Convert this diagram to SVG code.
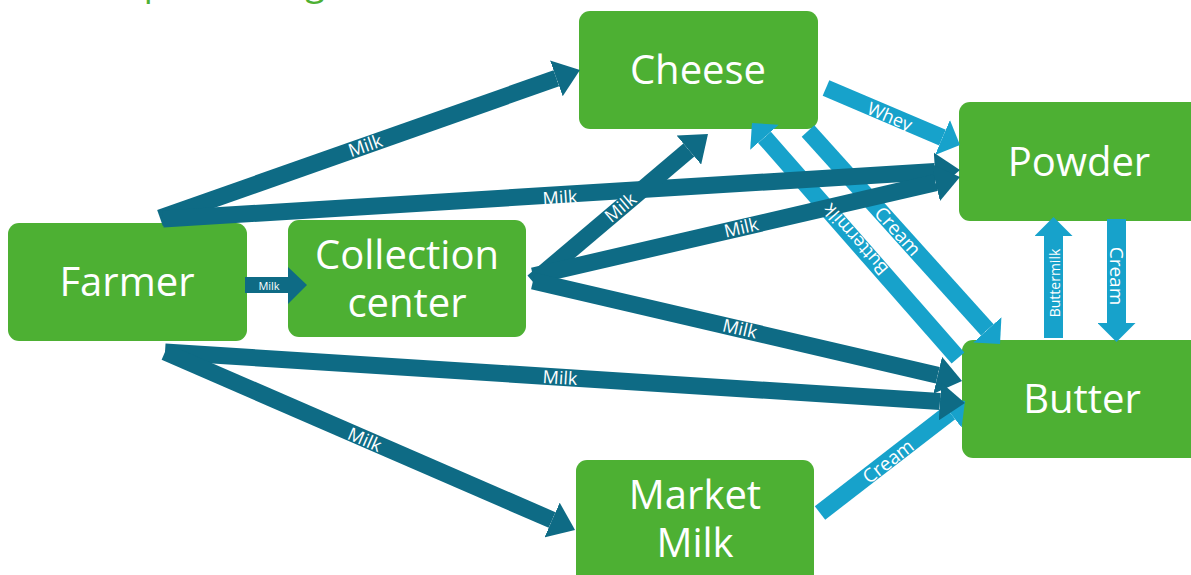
<svg xmlns="http://www.w3.org/2000/svg" width="1191" height="575" viewBox="0 0 1191 575">
<style>
.node{fill:#4DB033}
.nt{fill:#fff;font-family:"Open Sans","Noto Sans",sans-serif;font-size:40px;text-anchor:middle}
.dark{stroke:#0E6B85;stroke-width:17;fill:none;marker-end:url(#hd)}
.light{stroke:#17A2CB;stroke-width:17;fill:none;marker-end:url(#hl)}
.lv{stroke:#17A2CB;stroke-width:19;fill:none;marker-end:url(#hl)}
.lb{fill:#fff;font-family:"Open Sans","Noto Sans",sans-serif;font-size:18px;text-anchor:middle;dominant-baseline:central}
</style>
<defs>
<marker id="hd" markerUnits="userSpaceOnUse" viewBox="0 0 25 38" markerWidth="25" markerHeight="38" refX="0" refY="19" orient="auto"><path d="M0,0 L25,19 L0,38 z" fill="#0E6B85"/></marker>
<marker id="hl" markerUnits="userSpaceOnUse" viewBox="0 0 19 38" markerWidth="19" markerHeight="38" refX="0" refY="19" orient="auto"><path d="M0,0 L19,19 L0,38 z" fill="#17A2CB"/></marker>
</defs>
<text x="65" y="-5" fill="#4DB033" font-family="Open Sans, Noto Sans, sans-serif" font-size="36">Milk processing</text>
<g id="farmer"><rect class="node" x="8" y="223" width="239" height="118" rx="11"/><text class="nt" x="127" y="296">Farmer</text></g>
<g id="collection"><rect class="node" x="288" y="220" width="238" height="117" rx="11"/><text class="nt" x="407" y="269">Collection</text><text class="nt" x="407" y="317">center</text></g>
<g id="cheese"><rect class="node" x="579" y="11" width="239" height="118" rx="11"/><text class="nt" x="698" y="84">Cheese</text></g>
<g id="powder"><rect class="node" x="959" y="102" width="250" height="119" rx="11"/><text class="nt" x="1079" y="176">Powder</text></g>
<g id="butter"><rect class="node" x="962" y="340" width="250" height="118" rx="11"/><text class="nt" x="1082" y="413">Butter</text></g>
<g id="market"><rect class="node" x="576" y="460" width="238" height="130" rx="11"/><text class="nt" x="695" y="509">Market</text><text class="nt" x="695" y="557">Milk</text></g>
<g id="connectors">
<line class="light" x1="826" y1="88" x2="942.5" y2="137.6"/>
<line class="light" x1="808" y1="131" x2="987.3" y2="329.9"/>
<line class="light" x1="958" y1="358" x2="764.5" y2="137.3"/>
<line class="light" x1="820" y1="513" x2="950" y2="412.6"/>
<line class="lv" x1="1053.5" y1="338" x2="1053.5" y2="236"/>
<line class="lv" x1="1116.5" y1="219" x2="1116.5" y2="323"/>
<line class="dark" x1="160" y1="218" x2="556.4" y2="78.3"/>
<line class="dark" x1="163" y1="219" x2="935" y2="171.5"/>
<polygon points="245,277 288,277 288,267 307,285 288,304 288,293 245,293" fill="#0E6B85"/>
<line class="dark" x1="533" y1="282" x2="688.9" y2="150.1"/>
<line class="dark" x1="533" y1="276" x2="935.6" y2="182.6"/>
<line class="dark" x1="533" y1="281" x2="937.7" y2="375.3"/>
<line class="dark" x1="165" y1="352" x2="940" y2="401.4"/>
<line class="dark" x1="165" y1="352" x2="552.1" y2="520"/>
<text class="lb" transform="translate(365,145) rotate(-19.4)">Milk</text>
<text class="lb" transform="translate(560,197) rotate(-3.5)">Milk</text>
<text class="lb" style="font-size:11px" x="269" y="285">Milk</text>
<text class="lb" transform="translate(620,207) rotate(-40.2)">Milk</text>
<text class="lb" transform="translate(741,227) rotate(-13)">Milk</text>
<text class="lb" transform="translate(740,328) rotate(13.1)">Milk</text>
<text class="lb" transform="translate(560,377) rotate(3.6)">Milk</text>
<text class="lb" transform="translate(365,439) rotate(23.5)">Milk</text>
<text class="lb" transform="translate(890,116) rotate(23)">Whey</text>
<text class="lb" style="font-size:19px" transform="translate(898,231) rotate(48)">Cream</text>
<text class="lb" transform="translate(855,240) rotate(-131.2)">Buttermilk</text>
<text class="lb" style="font-size:19px" transform="translate(888,461) rotate(-37.7)">Cream</text>
<text class="lb" style="font-size:14px" transform="translate(1054,283) rotate(-90)">Buttermilk</text>
<text class="lb" style="font-size:19px" transform="translate(1117,276) rotate(90)">Cream</text>
</g>
</svg>
